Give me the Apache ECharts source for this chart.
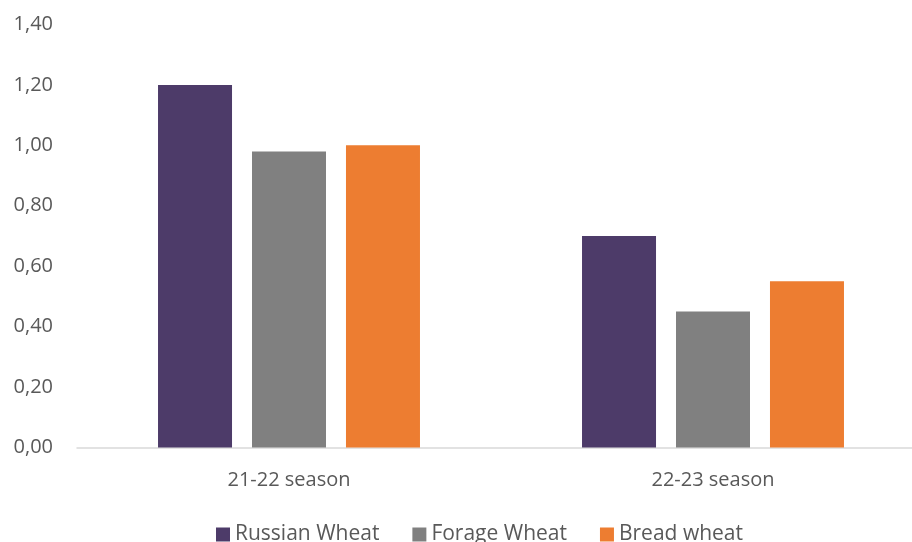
<!DOCTYPE html>
<html>
<head>
<meta charset="utf-8">
<script src="https://cdn.jsdelivr.net/npm/echarts@6/dist/echarts.min.js"></script>
<style>
  html, body { margin: 0; padding: 0; background: #ffffff; }
  #chart { width: 912px; height: 542px; }
</style>
</head>
<body>
<div id="chart"></div>
<script>
// Seasons on the category axis
const categories = ['21-22 season', '22-23 season'];

// Values per wheat type
const russianWheat = [1.20, 0.70];
const forageWheat = [0.98, 0.45];
const breadWheat = [1.00, 0.55];

// Value axis range
const yMin = 0;
const yMax = 1.4;
const yStep = 0.2;

const FONT = '"Open Sans", "Liberation Sans", sans-serif';
const TEXT_COLOR = '#595959';

const chart = echarts.init(document.getElementById('chart'), null, { renderer: 'canvas' });

function barSeries(name, data, color) {
  return {
    name: name,
    type: 'bar',
    data: data,
    barWidth: 74,
    barGap: '27%',
    itemStyle: { color: color },
    emphasis: { disabled: true }
  };
}

chart.setOption({
  animation: false,
  backgroundColor: '#ffffff',
  grid: {
    left: 77,
    top: 24.5,
    width: 848,
    height: 423,
    containLabel: false,
    outerBoundsMode: 'none'
  },
  legend: {
    left: 216,
    top: 524,
    padding: 0,
    itemWidth: 14,
    itemHeight: 14,
    itemGap: 33,
    icon: 'rect',
    textStyle: { fontFamily: FONT, fontSize: 21, color: TEXT_COLOR },
    data: ['Russian Wheat', 'Forage Wheat', 'Bread wheat']
  },
  xAxis: {
    type: 'category',
    data: categories,
    axisLine: { show: true, lineStyle: { color: '#d9d9d9', width: 1.5 } },
    axisTick: { show: false },
    axisLabel: {
      margin: 23,
      fontFamily: FONT,
      fontSize: 20,
      color: TEXT_COLOR
    },
    splitLine: { show: false }
  },
  yAxis: {
    type: 'value',
    min: yMin,
    max: yMax,
    interval: yStep,
    axisLine: { show: false },
    axisTick: { show: false },
    splitLine: { show: false },
    axisLabel: {
      margin: 24,
      fontFamily: FONT,
      fontSize: 20,
      color: TEXT_COLOR,
      formatter: function (v) { return v.toFixed(2).replace('.', ','); }
    }
  },
  series: [
    barSeries('Russian Wheat', russianWheat, '#4d3b69'),
    barSeries('Forage Wheat', forageWheat, '#808080'),
    barSeries('Bread wheat', breadWheat, '#ed7d31')
  ]
});
</script>
</body>
</html>
